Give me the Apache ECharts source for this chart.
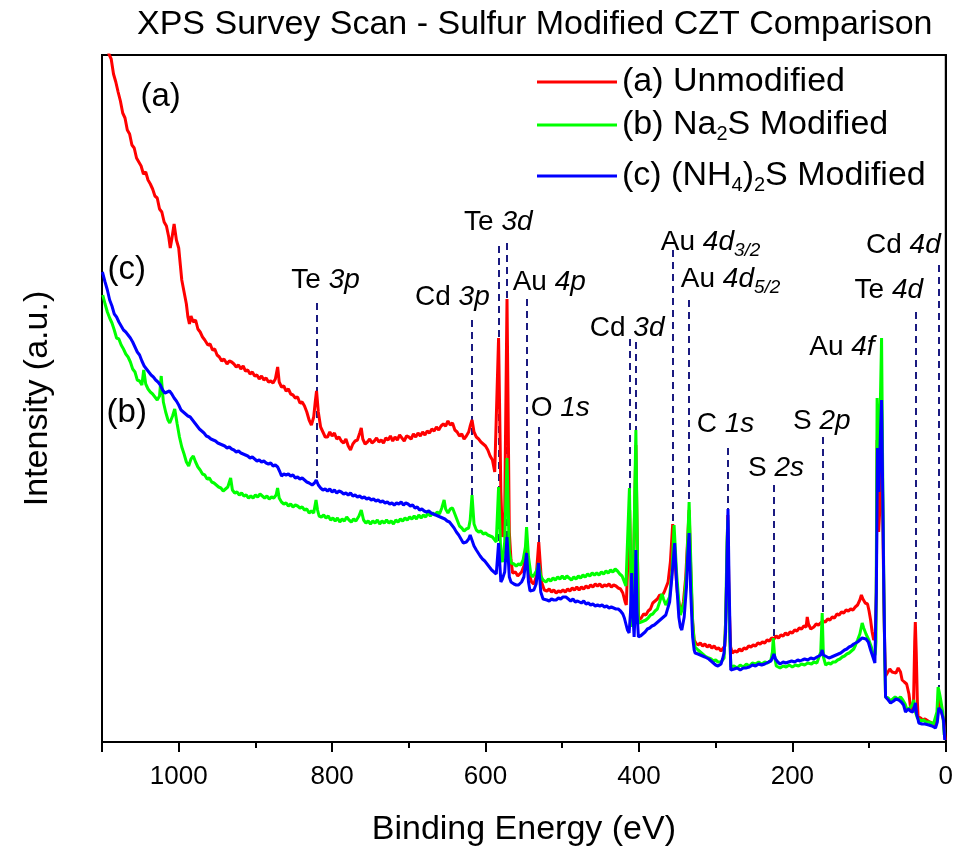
<!DOCTYPE html>
<html><head><meta charset="utf-8">
<script src="https://cdn.jsdelivr.net/npm/echarts@6/dist/echarts.min.js"></script>
<style>html,body{margin:0;padding:0;background:#fff}#c{width:956px;height:853px}</style>
</head><body><div id="c"></div>
<script>
const FONT = 'Liberation Sans, Arial, Helvetica, sans-serif';

// [binding energy (eV), intensity (a.u.)]
// (a) Unmodified
const redData = [
[1094,705],[1091,688],[1088,683],[1085,668],[1082,660],[1079,650],[1076,641],[1073,629],[1070,624],[1067,612],[1064,608],[1061,597],[1058,594],[1055,584],[1052,580],[1049,576],[1046,568],[1043,570],[1040,562],[1037,558],[1034,553],[1031,546],[1028,544],[1025,533],[1022,530],[1019,520],[1016,516],[1013,505],[1011,494],[1009,503],[1006,518],[1003,502],[1000,494],[998,478],[996,462],[993,450],[990,438],[988,425],[986,418],[984,426],[981,420],[978,422],[975,413],[972,410],[969,405],[966,402],[962,397],[959,398],[956,392],[953,393],[950,387],[947,385],[944,381],[941,383],[937,378],[934,381],[931,380],[928,378],[925,375],[922,377],[919,373],[916,376],[913,371],[910,372],[907,368],[904,370],[901,366],[898,367],[895,363],[892,366],[889,362],[886,364],[883,360],[880,361],[877,359],[874,363],[871,375],[869,360],[866,355],[863,356],[860,351],[857,353],[854,348],[851,347],[848,344],[845,345],[842,339],[839,340],[836,336],[833,330],[830,322],[827,317],[824,325],[822,340],[820.3,351],[818,330],[815,315],[812,310],[809,305],[806,305],[803,310],[800,306],[797,309],[794,303],[791,305],[788,301],[785,299],[782,303],[779,296],[776,292],[773,298],[770,301],[767,302],[764,309],[762,314],[760,303],[757,298],[754,300],[751,303],[748,299],[745,301],[742,304],[739,300],[736,302],[733,299],[730,304],[727,302],[724,306],[721,301],[718,305],[715,302],[712,307],[709,304],[706,301],[703,306],[700,305],[697,303],[694,308],[691,305],[688,309],[685,306],[682,310],[679,307],[676,311],[673,309],[670,313],[667,311],[664,315],[661,312],[658,316],[655,318],[652,316],[649,321],[646,317],[643,319],[640,312],[637,310],[634,306],[631,308],[628,303],[625,306],[622,310],[620,316],[617.6,322],[615,310],[612,305],[609,303],[606,300],[603,298],[600,296],[597,292],[594,286],[591,282],[588,270],[586,268],[583,404],[580,250],[578,205],[575,230],[572,443],[569,210],[566.8,182],[564.7,169],[561,170],[558,166],[556,167],[553,170],[550,176],[546.5,194],[543,168],[540,160],[537,158],[534,165],[530.6,200],[527,160],[523.4,152],[520,151],[517,153],[514,150],[511,152],[508,149],[505,151],[502,150],[499,152],[496,150],[493,153],[490,151],[487,154],[484,152],[481,155],[478,152],[475,155],[472,153],[469,156],[466,154],[463,157],[460,155],[457,158],[454,156],[451,158],[448,155],[445,157],[442,156],[439,158],[436,155],[433,157],[430,156],[427,154],[424,153],[421,149],[418,140],[416.5,137],[412.1,232],[410,150],[408.5,117],[404,297],[401,140],[400.4,122],[397,124],[394,128],[391,127],[388,131],[385,133],[382,139],[379,141],[376,143],[373,147],[370,146],[367,150],[365,152],[362,160],[359,180],[356,218],[353,180],[350,150],[347,135],[345,130],[342,140],[339,165],[336,210],[334.6,232],[332,160],[330,120],[328,102],[325.9,99],[323,97],[320,99],[317,96],[314,98],[311,95],[308,97],[305,94],[302,96],[299,93],[296,94],[293,91],[290.4,90],[288,96],[286,150],[284.2,227],[282.5,140],[280.5,95],[278.3,89],[275,91],[272,90],[269,93],[266,91],[263,94],[260,93],[257,96],[254,95],[251,97],[248,96],[245,99],[242,98],[239,100],[236,99],[233,102],[230,101],[227,104],[224,103],[221,106],[218,104],[215,107],[212,106],[209,109],[206,107],[203,110],[200,109],[197,112],[194,111],[191,114],[188,113],[185,116],[182,115],[180.6,125],[179,118],[176,113],[172,115],[169,118],[166,117],[163,119],[160,121],[157,120],[154,123],[151,122],[148,125],[145,124],[142,128],[139,127],[136,130],[133,129],[130,132],[127,131],[124,133],[121,132],[118,135],[115,137],[112,142],[110,147],[108,143],[105,139],[102,138],[100,131],[98,122],[96,110],[94,102],[92,105],[90.5,150],[89.5,302],[87.5,210],[85.5,240],[83.7,332],[82,220],[80.7,142],[79.5,90],[78.5,66],[76,68],[73,73],[70,70],[67.7,72],[65,69],[62,74],[59,70],[56.9,62],[54,60],[51,58],[48,48],[46,35],[44,30],[42,40],[40.5,100],[39.7,120],[38.5,90],[37,40],[36.1,25],[33,24],[30,22],[27,23],[24.7,22],[21,20],[18,19],[14.3,17],[12,18],[10,30],[9.1,47],[8,40],[6.5,32],[5.2,30],[3.5,25],[2,14],[0.7,2]
];

// (b) Na2S Modified
const greenData = [
[1099,447],[1096,438],[1093,430],[1090,424],[1087,419],[1084,412],[1081,404],[1078,403],[1075,397],[1072,393],[1069,388],[1066,385],[1063,380],[1060,373],[1057,370],[1054,362],[1051,361],[1048,357],[1045.6,372],[1043,358],[1040,353],[1037,350],[1034,348],[1031,345],[1028,342],[1025,346],[1022.8,366],[1020,340],[1017,330],[1014,322],[1011.7,319],[1008,326],[1005.2,333],[1002,318],[999,305],[996,295],[993,288],[990,280],[987,276],[984,283],[981,286],[978,280],[975,275],[972,272],[969,268],[966,267],[963,263],[960,264],[957,260],[954,259],[951,257],[948,255],[945,254],[942,251],[939,253],[936,255],[932.3,264],[930,252],[927,249],[924,250],[921,247],[918,249],[915,246],[912,247],[909,244],[906,246],[903,244],[900,247],[897,245],[894,248],[891,246],[888,244],[885,246],[882,243],[879,245],[876,244],[873,247],[871.1,254],[869,244],[866,240],[863,238],[860,239],[857,236],[854,238],[851,235],[848,237],[845,236],[842,234],[839,235],[836,232],[833,233],[830,229],[827,231],[824,229],[821,242],[819,232],[817,226],[814,225],[811,227],[808,224],[805,226],[802,222],[799,224],[796,221],[793,224],[790,220],[787,223],[784,221],[781,225],[778,222],[775,220],[772,223],[769,221],[765,226],[762,232],[759,222],[756,219],[753,221],[750,218],[747,221],[744,219],[741,222],[738,218],[735,221],[732,219],[729,222],[726,219],[723,221],[720,218],[717,222],[714,220],[711,223],[708,221],[705,224],[702,222],[699,225],[696,223],[693,226],[690,223],[687,227],[684,224],[681,227],[678,225],[675,229],[672,226],[669,229],[666,227],[663,230],[660,228],[657,234],[654,242],[652,233],[649,229],[646,233],[643,234],[640,228],[637,222],[634,216],[631,214],[628,211],[625,213],[622,214],[620,222],[617.6,247],[615,218],[612,212],[609,210],[606,211],[603,208],[600,209],[597,207],[594,206],[591,205],[589,203],[586,200],[583,255],[580,185],[578,180],[575,200],[572,284],[569,190],[566.4,179],[563,178],[560,176],[557,178],[554,177],[551,182],[548,195],[546.5,215],[544,185],[541,168],[538.7,165],[536,168],[533,172],[530.9,179],[528,166],[525,162],[521.2,160],[518,163],[515,161],[512,164],[509,162],[506,165],[503,163],[500,166],[497,163],[494,166],[491,164],[488,162],[485,165],[482,163],[479,166],[476,164],[473,167],[470,165],[467,168],[464,166],[461,169],[458,167],[455,169],[452,167],[449,170],[446,168],[443,171],[440,169],[437,172],[434,170],[431,173],[428,171],[425,168],[422,166],[419,160],[417,156],[415.4,155],[412.4,254],[410,140],[408.5,115],[404,312],[401,130],[400.7,119],[397,120],[394,121],[391,122],[388,124],[385,127],[382,128],[379,131],[376,133],[373,140],[370,148],[368,143],[365,137],[362.9,135],[360,145],[357,170],[354.2,217],[351,170],[348,140],[346,127],[344.1,125],[341,140],[338,170],[336,210],[334.6,240],[332,170],[330,120],[328,100],[326.8,95],[323,92],[320,90],[317,88],[314,86],[312.9,85],[309,84],[306,83],[303,81],[300,82],[297,80],[295.6,79],[293,80],[291,82],[289,84],[287,120],[285.2,200],[284.2,222],[283,150],[281.5,100],[280,75],[276,76],[272,74],[268,77],[264,75],[260,78],[256,76],[252.2,79],[248,78],[244,80],[240,78],[236,80],[232,79],[230.5,79],[228,82],[226,90],[224.9,104],[223,85],[221,76],[219.7,75],[216,74],[212,76],[208,75],[204,77],[200.1,75],[196,77],[192,76],[188,78],[184,77],[180,79],[178.4,80],[175,78],[172,80],[168,79],[165.4,79],[163,90],[161.1,129],[159.5,85],[156.6,77],[153,79],[150,78],[147,80],[144,80],[141,82],[138,83],[135,85],[132,86],[129,88],[126,89],[123,91],[120,93],[117.6,97],[115,102],[112,108],[109,119],[107,114],[104,108],[100.3,102],[97,95],[93.8,85],[92,88],[91,100],[89.5,344],[87.5,290],[85.5,330],[83.7,404],[82,250],[80.7,155],[79.5,80],[78.5,45],[75,44],[72,41],[69.9,42],[66,45],[62,43],[59,45],[56,42],[53,38],[50.4,32],[47,34],[44,37],[41.7,42],[39.5,30],[37,24],[35.2,22],[32,21],[29,22],[26,20],[22.1,20],[19,19],[16,18],[13.4,17],[11.5,30],[10,55],[8.5,50],[7,44],[5.6,42],[4,30],[2,7]
];

// (c) (NH4)2S Modified
const blueData = [
[1099.5,470],[1096,460],[1093,452],[1090,442],[1087,436],[1084,428],[1081,425],[1078,420],[1075,416],[1072,412],[1069,410],[1066,407],[1063,404],[1060,400],[1057,395],[1054,390],[1051,387],[1048,381],[1045,376],[1042,373],[1039,370],[1036,367],[1033,365],[1030,362],[1027,360],[1024,357],[1021,352],[1018,349],[1015,350],[1012,351],[1009,348],[1006,344],[1003,341],[1000,337],[997,332],[994,330],[991,328],[988,326],[985,325],[982,322],[979,319],[976,316],[973,313],[970,311],[967,309],[964,306],[961,305],[958,303],[955,302],[952,301],[949,299],[946,298],[943,297],[940,296],[937,294],[934,295],[931,293],[928,292],[925,290],[922,291],[919,289],[916,288],[913,287],[910,286],[907,284],[904,285],[901,283],[898,281],[895,282],[892,280],[889,281],[886,279],[883,278],[880,279],[877,276],[874,277],[871,275],[868,270],[866,266],[863,268],[860,267],[857,268],[854,266],[851,267],[848,264],[845,265],[842,263],[839,264],[836,262],[833,260],[830,259],[828,258],[826,257],[823,259],[820.7,262],[818,257],[815,254],[812,252],[809,253],[806,251],[803,253],[800,250],[797,252],[794,249],[791,251],[788,250],[785,248],[782,249],[779,247],[776,249],[773,246],[770,247],[767,245],[764,246],[761,244],[758,245],[755,243],[752,244],[749,242],[746,243],[743,241],[740,242],[737,240],[734,241],[731,239],[728,240],[725,238],[722,239],[719,237],[716,239],[713,238],[710,240],[707,237],[704,239],[701,238],[698,236],[695,237],[692,234],[689,235],[686,232],[683,233],[680,231],[677,230],[674,231],[671,229],[668,228],[665,227],[662,226],[659,225],[656,224],[653,223],[650,221],[647,220],[644,217],[641,214],[638,210],[635,207],[632,203],[629,199],[627,197],[625,200],[622,203],[620,207],[617.6,209],[615,196],[612,192],[610,190],[607,186],[604,183],[601,181],[598,178],[595,175],[592,172],[589,170],[586,168],[583,199],[580,160],[578,163],[575,170],[572,205],[569,165],[566.8,160],[563,158],[560,157],[557,157],[553,160],[550,165],[546.5,189],[544,160],[542,151],[539.7,150],[537,152],[534,158],[530.9,179],[528,150],[525,143],[523.4,141],[520,142],[517,141],[514,143],[511,142],[508,142],[505,144],[502,143],[499,145],[495.2,145],[492,143],[489,141],[486,143],[483,140],[480,141],[477.9,140],[475,139],[472,141],[469,138],[466,139],[463,137],[460,138],[457,136],[454,137],[451,136],[448,137],[445,135],[442,136],[439,134],[436,135],[433,134],[430,133],[427,133],[424,131],[421,128],[419,124],[417,118],[415,112],[412.8,109],[411,130],[409.5,169],[408,130],[406.3,105],[405,130],[404,192],[402.5,130],[400.7,105],[398,106],[395,108],[392,110],[389,113],[386,114],[383,116],[380,117],[377,119],[374,121],[371,123],[368,125],[365,127],[362.9,129],[360,140],[357,165],[353.5,199],[351,160],[348,125],[346,115],[344.1,112],[341,125],[338,155],[336.5,185],[334.6,209],[332.5,150],[330,105],[328,92],[326.8,89],[323,88],[320,87],[317,86],[314,85],[312.9,85],[309,83],[306,81],[303,79],[300,77],[297,76],[295.6,75],[293,78],[291,83],[289.1,89],[287,110],[285.3,180],[283.9,233],[282.5,160],[281,100],[280.3,72],[276,73],[272,74],[268,72],[264,74],[260.8,74],[256,75],[252,77],[248,76],[244,78],[240,77],[236,78],[234.8,79],[231,80],[228,81],[226,84],[224,88],[222,83],[219,80],[216,78],[212,80],[208.7,79],[205,80],[201,81],[197,80],[193,82],[190,81],[187.1,82],[184,83],[180,82],[176,84],[172,83],[168,85],[165.4,85],[163,87],[161.1,92],[159.5,87],[157,85],[152.3,84],[149,85],[146,86],[143,87],[140,88],[137,89],[135,90],[132,92],[129,93],[126,95],[123,96],[120,98],[117.6,99],[115,100],[112,102],[109,104],[106.8,105],[104,103],[101,100],[98,92],[95,85],[92.4,79],[90.5,150],[89,294],[87.2,250],[85.5,300],[83.7,342],[82.2,250],[80.7,149],[79.5,90],[78.5,45],[75,42],[72,39],[68,41],[65,43],[61.2,42],[58,40],[55,37],[52.5,30],[49,33],[46,31],[43,30],[41.7,30],[39.5,39],[38,28],[36,22],[35.2,19],[31,18],[27,18],[22.1,17],[18,16],[13.4,14],[11,20],[9.1,34],[7.5,32],[6,31],[4.8,30],[3,22],[1.3,2]
];

// peak reference lines (binding energy, top, bottom of dashed line)
const refE = [820.5, 617.6, 583.0, 572.0, 546.5, 530.6, 412.2, 404.0, 355.5, 334.6, 284.5, 224.5, 161.0, 39.7, 9.5];
const refTop = [439, 422, 496, 499, 443, 315, 403, 400, 492, 442, 294, 257, 305, 430, 477];
const refBottom = [260, 245, 182, 182, 212, 196, 252, 312, 218, 240, 233, 105, 129, 120, 55];

// peak labels
const labEl = ['Te', 'Te', 'Cd', 'Au', 'O', 'Cd', 'Au', 'Au', 'C', 'S', 'S', 'Au', 'Te', 'Cd'];
const labOrb = ['3p', '3d', '3p', '4p', '1s', '3d', '4d', '4d', '1s', '2s', '2p', '4f', '4d', '4d'];
const labSub = ['', '', '', '', '', '', '3/2', '5/2', '', '', '', '', '', ''];
const labE = [808.6, 583.3, 643.2, 516.9, 502.6, 415.4, 371.5, 345.4, 287.1, 221.4, 161.7, 135.4, 74.2, 55.3];
const labI = [462, 520, 445, 460, 334, 414, 500, 463, 318, 274, 321, 395, 452, 497];
const labAlign = ['center', 'center', 'center', 'center', 'center', 'center', 'left', 'left', 'center', 'center', 'center', 'center', 'center', 'center'];

// curve tags
const tagText = ['(a)', '(c)', '(b)'];
const tagE = [1023.5, 1067.7, 1067.7];
const tagI = [645, 472, 329];

const seriesNames = ['(a) Unmodified', '(b) Na2S Modified', '(c) (NH4)2S Modified'];
const legendRich = {
  '(a) Unmodified': '{n|(a) Unmodified}',
  '(b) Na2S Modified': '{n|(b) Na}{s|2}{n|S Modified}',
  '(c) (NH4)2S Modified': '{n|(c) (NH}{s|4}{n|)}{s|2}{n|S Modified}'
};

const chart = echarts.init(document.getElementById('c'), null, {renderer: 'canvas'});

const legendBase = (name, top) => ({
  data: [name], left: 537, top: top, orient: 'vertical', padding: 0,
  icon: 'rect', itemWidth: 80, itemHeight: 3, selectedMode: false,
  formatter: n => legendRich[n],
  textStyle: {
    fontFamily: FONT, fontSize: 34, color: '#000',
    rich: {
      n: {fontFamily: FONT, fontSize: 34, color: '#000', lineHeight: 38},
      s: {fontFamily: FONT, fontSize: 20, color: '#000', lineHeight: 14, verticalAlign: 'bottom'}
    }
  }
});

const option = {
  animation: false,
  backgroundColor: '#fff',
  title: {
    text: 'XPS Survey Scan - Sulfur Modified CZT Comparison',
    left: 137, top: 8, padding: 0,
    textStyle: {fontFamily: FONT, fontSize: 34, fontWeight: 'normal', color: '#000'}
  },
  grid: {left: 102, right: 9, top: 55, bottom: 111, show: true, borderColor: '#000', borderWidth: 2, backgroundColor: 'transparent'},
  xAxis: {
    type: 'value', inverse: true, min: 0, max: 1100, interval: 200,
    name: 'Binding Energy (eV)', nameLocation: 'middle', nameGap: 71,
    nameTextStyle: {fontFamily: FONT, fontSize: 34, color: '#000'},
    axisLine: {show: true, lineStyle: {color: '#000', width: 2}},
    axisTick: {show: true, length: 10, lineStyle: {color: '#000', width: 2}},
    minorTick: {show: true, splitNumber: 2, length: 6, lineStyle: {color: '#000', width: 2}},
    axisLabel: {fontFamily: FONT, fontSize: 26, color: '#000', margin: 22, showMaxLabel: false, formatter: v => String(v)},
    splitLine: {show: false}, minorSplitLine: {show: false}
  },
  yAxis: {
    type: 'value', min: 0, max: 687,
    name: 'Intensity (a.u.)', nameLocation: 'middle', nameGap: 47,
    nameTextStyle: {fontFamily: FONT, fontSize: 34, color: '#000'},
    axisLine: {show: true, lineStyle: {color: '#000', width: 2}},
    axisTick: {show: false}, axisLabel: {show: false}, splitLine: {show: false}
  },
  legend: [
    legendBase(seriesNames[0], 65),
    legendBase(seriesNames[1], 108),
    legendBase(seriesNames[2], 159)
  ],
  series: [
    {
      type: 'lines', coordinateSystem: 'cartesian2d', silent: true, z: 1,
      data: refE.map((e, i) => ({coords: [[e, refTop[i]], [e, refBottom[i]]]})),
      lineStyle: {color: '#1a1a80', width: 2, type: [7, 5], opacity: 1}
    },
    {
      name: seriesNames[0], type: 'line', data: redData, z: 2,
      showSymbol: false, symbol: 'none', color: '#ff0000',
      lineStyle: {color: '#ff0000', width: 3}
    },
    {
      name: seriesNames[1], type: 'line', data: greenData, z: 3,
      showSymbol: false, symbol: 'none', color: '#00ff00',
      lineStyle: {color: '#00ff00', width: 3}
    },
    {
      name: seriesNames[2], type: 'line', data: blueData, z: 4,
      showSymbol: false, symbol: 'none', color: '#0000ff',
      lineStyle: {color: '#0000ff', width: 3}
    },
    {
      type: 'scatter', silent: true, z: 10, symbolSize: 0, itemStyle: {opacity: 1},
      data: labE.map((e, i) => ({value: [e, labI[i]], label: {align: labAlign[i]}})),
      label: {
        show: true, position: [0, 0], verticalAlign: 'middle', opacity: 1,
        formatter: p => {
          const i = p.dataIndex;
          return '{n|' + labEl[i] + ' }{i|' + labOrb[i] + '}' + (labSub[i] ? '{s|' + labSub[i] + '}' : '');
        },
        rich: {
          n: {fontFamily: FONT, fontSize: 28, color: '#000', lineHeight: 36},
          i: {fontFamily: FONT, fontSize: 28, fontStyle: 'italic', color: '#000', lineHeight: 36},
          s: {fontFamily: FONT, fontSize: 19, fontStyle: 'italic', color: '#000', lineHeight: 10, verticalAlign: 'bottom'}
        }
      }
    },
    {
      type: 'scatter', silent: true, z: 10, symbolSize: 0, itemStyle: {opacity: 1},
      data: tagE.map((e, i) => [e, tagI[i]]),
      label: {
        show: true, position: [0, 0], align: 'center', verticalAlign: 'middle', opacity: 1,
        formatter: p => tagText[p.dataIndex],
        fontFamily: FONT, fontSize: 33, color: '#000'
      }
    }
  ]
};
chart.setOption(option);
</script>
</body></html>
